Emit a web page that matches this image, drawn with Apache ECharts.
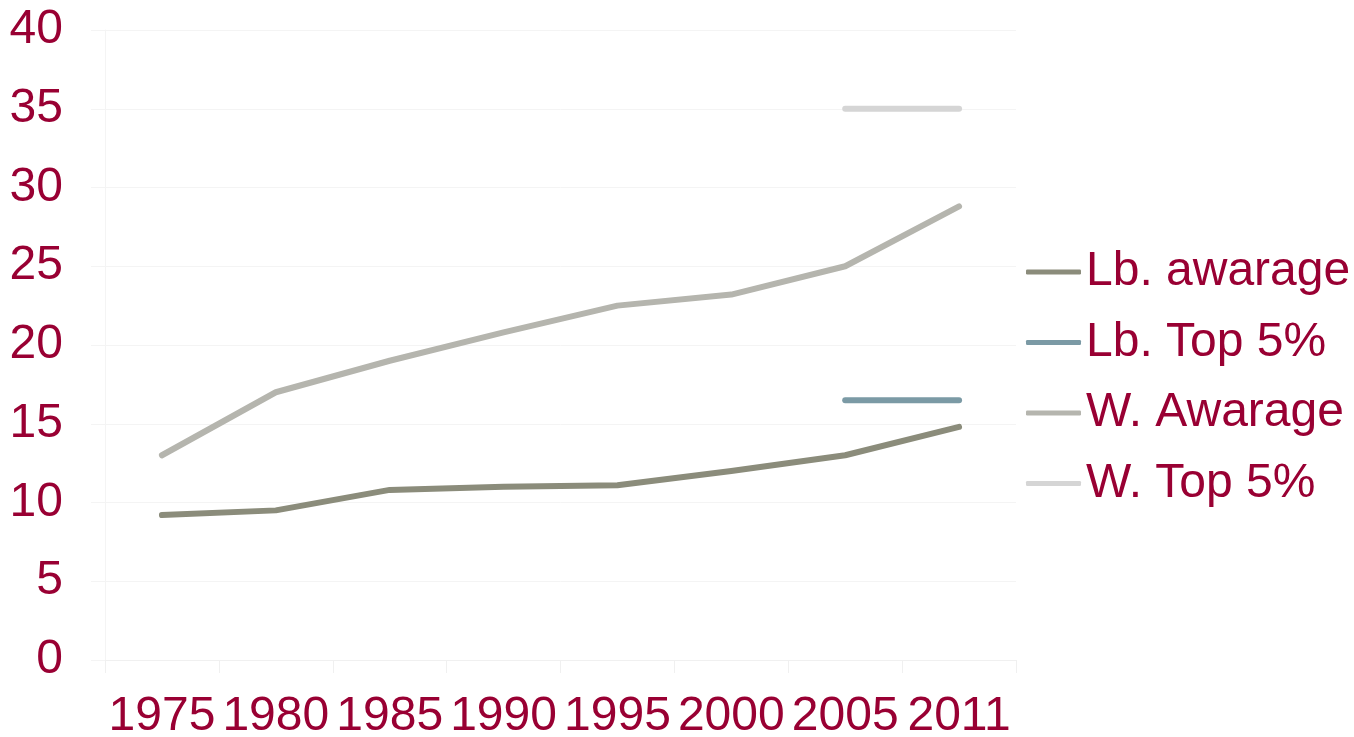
<!DOCTYPE html>
<html>
<head>
<meta charset="utf-8">
<script src="https://cdn.jsdelivr.net/npm/echarts@6/dist/echarts.min.js"></script>
<style>
html,body{margin:0;padding:0;background:#fff;}
#chart{width:1354px;height:737px;}
</style>
</head>
<body>
<div id="chart"></div>
<script>
var categories = ['1975','1980','1985','1990','1995','2000','2005','2011'];
var lbAverage = [9.2, 9.5, 10.8, 11.0, 11.1, 12.0, 13.0, 14.8];
var lbTop5 = [null, null, null, null, null, null, 16.5, 16.5];
var wAverage = [13.0, 17.0, 19.0, 20.8, 22.5, 23.2, 25.0, 28.8];
var wTop5 = [null, null, null, null, null, null, 35.0, 35.0];
var seriesNames = ['Lb. awarage', 'Lb. Top 5%', 'W. Awarage', 'W. Top 5%'];
var seriesColors = ['#8b8c7b', '#7b9aa5', '#b5b5ae', '#d5d5d5'];
var seriesData = [lbAverage, lbTop5, wAverage, wTop5];

var textColor = '#990033';
var font = 'Liberation Sans, Arial, sans-serif';

var chart = echarts.init(document.getElementById('chart'));
chart.setOption({
  animation: false,
  backgroundColor: '#fff',
  grid: {left: 105, right: 338, top: 30, bottom: 77, containLabel: false, outerBoundsMode: 'none'},
  legend: {
    orient: 'vertical',
    left: 1021,
    top: 242,
    icon: 'roundRect',
    itemWidth: 55,
    itemHeight: 5,
    itemGap: 20.5,
    data: seriesNames,
    textStyle: {color: textColor, fontSize: 48, fontFamily: font, lineHeight: 50}
  },
  xAxis: {
    type: 'category',
    data: categories,
    boundaryGap: true,
    axisLine: {show: true, lineStyle: {color: '#f0f0f0', width: 1}},
    axisTick: {show: true, length: 13, lineStyle: {color: '#f0f0f0'}},
    axisLabel: {color: textColor, fontSize: 48, fontFamily: font, margin: 33, interval: 0}
  },
  yAxis: {
    type: 'value',
    min: 0, max: 40, interval: 5,
    axisLine: {show: true, lineStyle: {color: '#f4f4f4', width: 1}},
    axisTick: {show: true, length: 14, lineStyle: {color: '#f4f4f4'}},
    splitLine: {show: true, lineStyle: {color: '#f4f4f4', width: 1}},
    axisLabel: {color: textColor, fontSize: 48, fontFamily: font, margin: 42}
  },
  series: seriesNames.map(function(n, i){
    return {
      name: n,
      type: 'line',
      data: seriesData[i],
      symbol: 'none',
      color: seriesColors[i],
      lineStyle: {color: seriesColors[i], width: 6, cap: 'round', join: 'round'},
      z: 4 - i
    };
  })
});
</script>
</body>
</html>
